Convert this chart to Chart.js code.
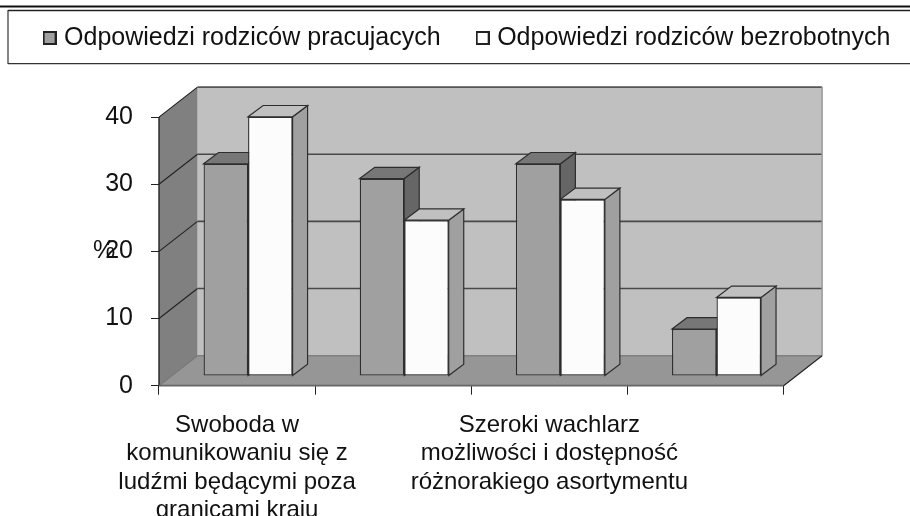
<!DOCTYPE html>
<html><head><meta charset="utf-8">
<style>html,body{margin:0;padding:0;background:#fff}#w{width:910px;height:516px;overflow:hidden}canvas{display:block;filter:blur(0.35px)}</style>
<script src="https://cdn.jsdelivr.net/npm/chart.js@4"></script>
</head><body><div id="w"><canvas id="c" width="960" height="516"></canvas></div>
<script>
const categories = [
  ["Swoboda w","komunikowaniu się z","ludźmi będącymi poza","granicami kraju"],
  "",
  ["Szeroki wachlarz","możliwości i dostępność","różnorakiego asortymentu"],
  ""
];
const seriesNames = ["Odpowiedzi rodziców pracujacych","Odpowiedzi rodziców bezrobotnych"];
const working = [31.6, 29.4, 31.6, 7.0];
const unemployed = [38.6, 23.2, 26.3, 11.7];
const yTicks = [0,10,20,30,40];
const yUnit = "%";

const FONT = "'Liberation Sans', Arial, sans-serif";
const INK = "#2e2e2e";
const depth = {wx:38.5, wy:-30, bx:11, by:-9.7, fx:15, fy:-11.3};
const skins = [
  {front:"#a0a0a0", top:"#777777", side:"#666666"},
  {front:"#fcfcfc", top:"#c0c0c0", side:"#a0a0a0"}
];

function icon(color){
  const c=document.createElement('canvas');c.width=14;c.height=14;
  const x=c.getContext('2d');x.fillStyle=color;x.fillRect(1,1,12,12);
  x.strokeStyle="#222";x.lineWidth=2;x.strokeRect(1,1,12,12);return c;
}
const icons=[icon(skins[0].front),icon("#ffffff")];

function poly(ctx,pts,fill,stroke,lw){
  ctx.beginPath();pts.forEach((p,i)=>i?ctx.lineTo(p[0],p[1]):ctx.moveTo(p[0],p[1]));ctx.closePath();
  if(fill){ctx.fillStyle=fill;ctx.fill();}
  if(stroke){ctx.strokeStyle=stroke;ctx.lineWidth=lw||1;ctx.stroke();}
}
function line(ctx,a,b,color,lw){ctx.beginPath();ctx.moveTo(a[0],a[1]);ctx.lineTo(b[0],b[1]);ctx.strokeStyle=color;ctx.lineWidth=lw;ctx.stroke();}

const scene={
  id:'scene',
  afterLayout(chart){const l=chart.legend;l.top=-14.5;l.left-=11;l.right-=11;},
  beforeDraw(chart){
    const c=chart.ctx;
    line(c,[0,6.5],[960,6.5],"#111",2);
    line(c,[8,10.5],[960,10.5],"#222",1.4);
    line(c,[8,10],[8,64],"#333",1.2);
    line(c,[8,63.7],[960,63.7],"#333",1.2);
  },
  beforeDatasetsDraw(chart){
    const c=chart.ctx,a=chart.chartArea,y=chart.scales.y,{wx,wy,bx,by,fx,fy}=depth;
    const L=a.left,R=a.right,T=y.getPixelForValue(40),B=y.getPixelForValue(0);
    poly(c,[[L+wx,T+wy],[R+wx,T+wy],[R+wx,B+wy],[L+wx,B+wy]],"#c0c0c0");
    poly(c,[[L,T],[L+wx,T+wy],[L+wx,B+wy],[L,B]],"#808080");
    poly(c,[[L,B],[L+wx,B+wy],[R+wx,B+wy],[R,B]],"#969696");
    yTicks.forEach(v=>{
      const p=y.getPixelForValue(v);
      line(c,[L,p],[L+wx,p+wy],v===0?"#777":"#222",1.1);
      line(c,[L+wx,p+wy],[R+wx,p+wy],v===0?"#808080":(v===40?"#555":"#484848"),v===0?1.4:1.6);
    });
    line(c,[L,T],[L,B],"#222",1.4);
    line(c,[R+wx,T+wy],[R+wx,B+wy],"#9a9a9a",1.5);
    line(c,[L,B],[R,B],"#666",1.8);
    line(c,[R,B],[R+wx,B+wy],"#222",1.1);
    [0,1].forEach(di=>{
      chart.getDatasetMeta(di).data.forEach(el=>{
        const w=el.width/2,l=el.x-w+bx,r=el.x+w+bx,t=el.y+by,b=el.base+by,s=skins[di];
        poly(c,[[r,t],[r+fx,t+fy],[r+fx,b+fy],[r,b]],s.side,INK,1.2);
        poly(c,[[l,t],[l+fx,t+fy],[r+fx,t+fy],[r,t]],s.top,INK,1.2);
      });
    });
  },
  beforeDatasetDraw(chart){chart.ctx.save();chart.ctx.translate(depth.bx,depth.by);},
  afterDatasetDraw(chart){chart.ctx.restore();},
  afterDraw(chart){
    const c=chart.ctx;c.save();c.fillStyle="#111";c.font="25px "+FONT;c.textAlign="center";c.textBaseline="middle";
    c.fillText(yUnit,104,chart.scales.y.getPixelForValue(20));c.restore();
  }
};

new Chart(document.getElementById('c'),{
  type:'bar',
  data:{labels:categories,datasets:[
    {label:seriesNames[0],data:working,backgroundColor:skins[0].front,borderColor:INK,borderWidth:1.3,borderSkipped:false,clip:false},
    {label:seriesNames[1],data:unemployed,backgroundColor:skins[1].front,borderColor:INK,borderWidth:1.3,borderSkipped:false,clip:false}
  ]},
  plugins:[scene],
  options:{
    responsive:false,animation:false,
    categoryPercentage:0.57,barPercentage:1,
    layout:{padding:{left:0,top:42.1,right:0,bottom:0}},
    plugins:{
      tooltip:{enabled:false},
      legend:{display:true,position:'top',labels:{
        usePointStyle:true,pointStyleWidth:4,padding:40,color:"#111",font:{family:FONT,size:25},
        generateLabels:()=>seriesNames.map((n,i)=>({text:n,pointStyle:icons[i],datasetIndex:i,hidden:false,lineWidth:0,fontColor:"#111"}))
      }}
    },
    scales:{
      x:{
        grid:{drawOnChartArea:false,tickLength:9,color:"#222",offset:true},
        border:{color:"#666"},
        ticks:{autoSkip:false,maxRotation:0,minRotation:0,padding:17,color:"#111",font:{family:FONT,size:24,lineHeight:1.17}},
        afterFit(s){s.height=130.3;}
      },
      y:{
        min:0,max:40,
        grid:{drawOnChartArea:false,tickLength:8,color:"#222"},
        border:{color:"#222"},
        afterBuildTicks(s){s.ticks=yTicks.map(v=>({value:v}));},
        ticks:{padding:18,color:"#111",font:{family:FONT,size:25}},
        afterFit(s){s.width=159;}
      },
      pad:{
        type:'linear',position:'right',display:true,
        grid:{display:false},border:{display:false},ticks:{display:false},
        afterFit(s){s.width=176.4;}
      }
    }
  }
});
</script></body></html>
